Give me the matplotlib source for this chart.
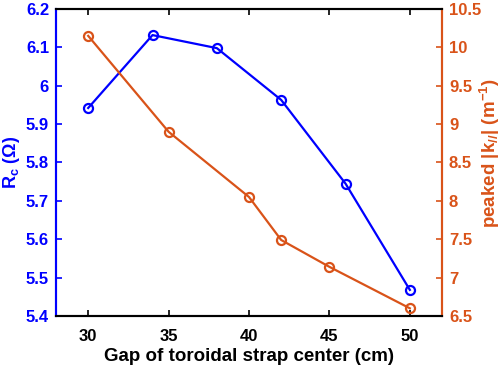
import matplotlib
matplotlib.use("Agg")
import matplotlib.pyplot as plt

plt.rcParams['font.family'] = ['Liberation Sans', 'DejaVu Sans']
plt.rcParams['font.weight'] = 'bold'
plt.rcParams['mathtext.fontset'] = 'custom'
plt.rcParams['mathtext.rm'] = 'Liberation Sans:bold'
plt.rcParams['mathtext.it'] = 'Liberation Sans:bold'
plt.rcParams['mathtext.bf'] = 'Liberation Sans:bold'

gap_rc = [30, 34, 38, 42, 46, 50]
rc = [5.942, 6.132, 6.098, 5.963, 5.745, 5.468]
gap_k = [30, 35, 40, 42, 45, 50]
kpar = [10.15, 8.90, 8.05, 7.49, 7.14, 6.60]

blue = '#0000FF'
orange = '#D95319'

fig = plt.figure(figsize=(5.02, 3.7), dpi=100)
ax = fig.add_axes([0.1116, 0.146, 0.7689, 0.8297])
ax2 = ax.twinx()

ax.plot(gap_rc, rc, '-o', color=blue, lw=1.6, ms=6.5, mfc='none', mew=1.6)
ax2.plot(gap_k, kpar, '-o', color=orange, lw=1.6, ms=6.5, mfc='none', mew=1.6)

ax.set_xlim(28, 52)
ax.set_ylim(5.4, 6.2)
ax2.set_ylim(6.5, 10.5)
ax.set_xticks([30, 35, 40, 45, 50])
ax.set_yticks([5.4, 5.5, 5.6, 5.7, 5.8, 5.9, 6.0, 6.1, 6.2])
ax.set_yticklabels(['5.4', '5.5', '5.6', '5.7', '5.8', '5.9', '6', '6.1', '6.2'])
ax2.set_yticks([6.5, 7, 7.5, 8, 8.5, 9, 9.5, 10, 10.5])
ax2.set_yticklabels(['6.5', '7', '7.5', '8', '8.5', '9', '9.5', '10', '10.5'])

fs = 12
ax.tick_params(axis='x', direction='in', top=True, labelsize=fs, width=1.2, length=4, colors='black', pad=9.5)
ax.tick_params(axis='y', direction='in', labelsize=fs, width=1.2, length=4, colors=blue, pad=5)
ax2.tick_params(axis='y', direction='in', labelsize=fs, width=1.2, length=4, colors=orange, pad=5)

for a in (ax, ax2):
    for s in a.spines.values():
        s.set_linewidth(1.5)
ax2.spines['left'].set_color(blue)
ax2.spines['right'].set_color(orange)
ax2.spines['top'].set_color('black')
ax2.spines['bottom'].set_color('black')
ax.spines['left'].set_color(blue)
ax.spines['right'].set_color(orange)

ax.set_xlabel('Gap of toroidal strap center (cm)', fontsize=13.5, fontweight='bold', labelpad=3)
ax.set_ylabel(r'R$_{\mathregular{c}}$ ($\Omega$)', fontsize=13, fontweight='bold', color=blue)
ax.yaxis.set_label_coords(-0.088, 0.5)
ax2.set_ylabel(r'peaked |k$_{//}$| (m$^{-1}$)', fontsize=13.5, fontweight='bold', color=orange)
ax2.yaxis.set_label_coords(1.094, 0.53)

fig.savefig('out.png', dpi=100)
